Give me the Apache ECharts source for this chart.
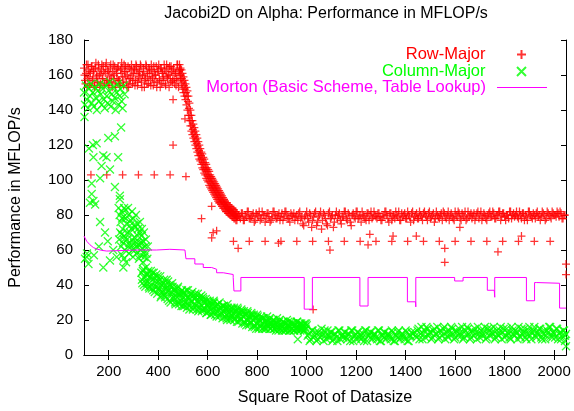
<!DOCTYPE html>
<html>
<head>
<meta charset="utf-8">
<script src="https://cdn.jsdelivr.net/npm/echarts@6/dist/echarts.min.js"></script>
<style>
  html, body { margin: 0; padding: 0; background: #ffffff; }
  #chart { width: 574px; height: 411px; }
</style>
</head>
<body>
<div id="chart"></div>
<script>
// ---- Axis ticks ----
const xTicks = [200, 400, 600, 800, 1000, 1200, 1400, 1600, 1800, 2000];
const yTicks = [0, 20, 40, 60, 80, 100, 120, 140, 160, 180];

// ---- Row-Major (sampled runs: first x, x step, MFLOP/s values) ----
const rowPlateauStart = 100, rowPlateauStep = 4;
const rowPlateauY = [
  164,157,161,153,166,159,162,155,165,158,
  163,154,167,160,156,164,153,161,166,158,
  162,155,165,157,163,154,160,166,156,162,
  158,165,153,161,164,157,155,163,167,159,
  154,162,165,156,160,153,164,158,166,155,
  161,163,157,165,154,159,162,166,156,160,
  164,153,158,165,161,155,163,157,166,159,
  154,162,160,165,156,163,158,153,164,161,
  157,166,155,162,159,164,153,160,165,156,
  163,158,161,154,166,157,162,160
];
const rowPlateau2Start = 102, rowPlateau2Step = 4;
const rowPlateau2Y = [
  160,155,166,158,163,154,161,165,157,162,
  153,164,159,156,166,160,155,163,158,165,
  154,161,167,157,162,156,164,159,153,166,
  160,155,163,158,165,157,154,161,164,156,
  166,159,162,153,165,158,155,163,160,157,
  164,154,166,161,156,163,158,165,153,160,
  162,157,166,155,159,164,161,154,163,158,
  165,156,160,153,162,166,157,164,155,161,
  159,163,154,166,158,160,165,156,162,157,
  164,155,161,158,166,153,163
];
const rowDecayStart = 488, rowDecayStep = 4;
const rowDecayY = [
  163,160,158,156,154,152,150,148,145,141,
  137,134,131,129,127,125,123,121,119,117,
  115,114,112,110,109,107,106,105,103,102,
  101,99,98,97,96,95,94,93,92,91,
  90,89,88,88,87,86,85,85,84,83,
  83,82,82,81,81,80,80,79,79
];
const rowDecayLowStart = 490, rowDecayLowStep = 4;
const rowDecayLowY = [
  158,155,152,150,148,146,143,140,137,134,
  131,128,126,124,122,120,118,116,114,112,
  111,109,107,106,104,103,101,100,99,97,
  96,95,94,93,92,91,90,89,88,87,
  87,86,85,84,84,83,82,82,81,81,
  80,80,79,79,78,78,77,77
];
const rowDecayHighStart = 486, rowDecayHighStep = 4;
const rowDecayHighY = [
  166,164,163,161,159,157,155,153,151,148,
  144,140,137,134,132,130,128,126,124,122,
  120,118,116,115,113,112,110,109,107,106,
  105,103,102,101,100,99,98,97,96,95,
  94,93,92,91,90,89,88,87,87,86,
  85,85,84,84,83,83,82,82,81
];
const rowFlatStart = 724, rowFlatStep = 8;
const rowFlatY = [
  80,78,81,77,79,82,78,80,76,81,
  79,77,82,80,78,81,76,79,82,78,
  80,77,81,79,82,78,76,80,81,79,
  77,82,79,74,80,78,81,73,79,82,
  76,80,72,81,78,74,82,79,73,80,
  78,81,75,79,82,77,80,74,81,78,
  82,79,76,80,78,81,77,82,79,80,
  78,81,77,79,82,80,76,81,79,78,
  80,82,77,79,81,78,80,76,82,79,
  81,78,80,77,82,79,81,78,80,76,
  82,79,80,77,81,78,82,80,79,77,
  80,82,78,81,79,77,82,80,78,81,
  79,82,80,77,81,78,80,82,79,81,
  78,80,82,79,81,77,80,82,78,81,
  80,79,82,78,81,80,77,82,79,81,
  78,82,80,79,81,77,82,80,78,81,
  80,82,79,81,78,80
];
const rowFlat2Start = 728, rowFlat2Step = 8;
const rowFlat2Y = [
  79,81,77,80,82,78,79,81,77,80,
  82,78,80,76,81,79,77,82,80,78,
  81,79,77,82,80,78,81,79,77,80,
  81,78,75,79,82,76,80,77,81,74,
  79,82,77,80,75,81,78,80,76,82,
  80,77,79,82,78,81,76,80,79,82,
  78,80,82,79,77,81,80,78,82,79,
  81,79,77,80,82,78,81,77,80,82,
  79,77,81,80,78,82,79,81,77,80,
  78,82,79,81,80,77,82,79,81,78,
  80,78,81,82,79,80,77,81,78,82,
  79,81,77,80,82,78,79,81,80,77,
  81,78,82,79,80,77,81,79,82,78,
  80,82,77,81,79,80,78,82,80,79,
  82,78,80,81,77,79,82,80,78,80,
  81,79,77,82,80,78,81,79,82,80,
  79,81,82,78,80
];
const rowOutliers = [
  [128,103],[192,103],[256,103],[320,103],[384,103],[448,103],[512,102],
  [460,146],[460,120],[508,135],[575,78],[616,85],[622,70],[636,71],[616,67],
  [704,65],[723,61],[768,65],[832,65],[886,64],[896,65],[960,65],[1024,65],
  [1026,26],[1088,65],[1094,60],[1152,65],[1216,65],[1248,63],[1255,69],
  [1280,65],[1344,65],[1349,68],[1408,65],[1443,68],[1472,65],[1536,65],
  [1558,61],[1558,53],[1600,65],[1619,73],[1664,65],[1728,65],[1773,59],
  [1792,65],[1856,65],[1868,68],[1920,65],[1984,65],[2048,52],[2048,46]
];

// ---- Column-Major ----
const colBandStart = 100, colBandStep = 4;
const colBandY = [
  150,143,154,146,141,152,148,155,144,150,
  142,153,147,140,151,145,155,149,143,152,
  146,141,154,148,144,151,156,142,149,145,
  153,147,140,150,155,143,148,152,145,141,
  154,149
];
const colScatter = [
  [102,136],[151,121],[138,113],[178,114],[198,124],[225,125],[191,113],
  [171,108],[205,106],[238,113],[131,98],[165,101],[225,96],[131,92],
  [245,91],[138,88],[145,86],[124,87],[245,89],[165,76],[185,70],[218,60],
  [252,69],[111,56],[118,52],[178,50],[232,56],[205,54],[259,50],[104,55],
  [112,58],[160,62],[196,65],[140,57],[250,130],[120,118],[136,120]
];
const colCluster = [
  [240,84],[244,80],[248,76],[252,82],[256,72],[260,79],[264,68],[268,83],
  [272,75],[276,70],[280,80],[284,64],[288,77],[292,72],[296,60],[300,78],
  [304,67],[308,73],[312,58],[316,75],[320,63],[324,70],[328,57],[332,68],
  [336,61],[340,65],[344,56],[348,62],[352,58],[356,55],[242,66],[250,62],
  [258,64],[266,60],[274,66],[282,58],[290,62],[298,56],[306,60],[314,64],
  [322,55],[330,60],[338,53],[254,57],[262,55],[270,53],
  [246,70],[254,78],[262,84],[270,78],[278,84],[286,70],[294,82],[302,74],
  [310,80],[318,68],[326,76],[334,72],[342,70],[350,66],[358,62],[262,66],
  [278,62],[294,66],[310,62],[326,64],[342,58],[286,74],[302,64],[318,72],
  [334,64]
];
const colDecayStart = 332, colDecayStep = 4;
const colDecayY = [
  47,41,49,44,39,46,42,48,38,45,40,47,37,
  44,39,46,35,42,38,45,34,41,37,
  43,33,40,36,42,31,39,35,41,32,
  38,30,36,33,39,29,35,31,37,28,
  36,30,34,27,37,32,28,35,31,26,
  34,29,33,26,35,30,27,32,25,33,
  30,26,32,24,29,27,31,23,28,25,
  31,25,28,22,29,26,30,23,27,21,
  28,24,27,21,29,23,26,20,27,22,
  26,20,25,22,27,19,24,21,26,18,
  24,19,23,17,25,20,22,18,24,16,
  22,17,21,15,23,18,20,16,22,15,
  21,16,19,15,22,17,20,15,18,16,
  20,15,18,14,21,16,19,15,17,14,
  19,15,18,14,20,16,17,14,19,15,
  18,14,17,15,19,14,16,18,15,17,
  16,14,18,15,17
];
const colDecay2Start = 334, colDecay2Step = 4;
const colDecay2Y = [
  43,48,40,45,50,41,46,39,44,48,38,43,
  47,36,42,39,45,37,43,33,40,36,
  41,34,38,43,32,37,40,30,36,39,
  33,37,29,35,38,30,34,36,28,33,
  35,28,32,37,29,33,26,34,30,36,
  27,32,35,28,31,25,33,29,34,26,
  32,27,30,24,31,28,25,30,23,29,
  27,30,23,28,25,29,22,27,24,28,
  25,28,22,26,20,27,24,21,26,23,
  24,27,21,25,19,26,22,24,20,25,
  22,25,18,23,20,24,17,22,19,23,
  20,23,16,21,18,22,15,20,17,21,
  18,21,15,20,17,19,16,21,15,18,
  17,20,15,19,16,18,14,20,15,17,
  16,19,14,18,15,17,19,14,16,18,
  15,18,14,17,16,19,15,17,14,18,
  15,17,14,16,18
];
const colFlatAStart = 1004, colFlatAStep = 8;
const colFlatAY = [
  11,8,14,10,13,9,12,15,8,11,
  14,10,13,9,12,8,14,11,10,13,
  9,12,14,8,11,13,10,9,12,14,
  8,11,13,10,12,9,14,8,11,13,
  10,12,9,13,8,11,14,10,12,9,
  13,8,11,12
];
const colFlatA2Start = 1008, colFlatA2Step = 8;
const colFlatA2Y = [
  12,9,14,11,8,13,10,12,14,9,
  11,13,8,12,10,14,9,11,13,10,
  12,8,14,11,9,13,12,10,8,14,
  11,13,9,12,10,14,8,11,13,9,
  12,10,14,8,11,13,9,12,10,14,
  8,11,13
];
const colFlatBStart = 1436, colFlatBStep = 8;
const colFlatBY = [
  13,10,15,12,9,14,16,11,13,10,
  15,12,9,14,11,16,13,10,12,15,
  9,14,11,13,16,10,12,15,9,14,
  11,13,16,10,12,14,9,15,11,13,
  16,10,12,14,9,15,11,13,10,16,
  12,14,9,11,15,13,10,12,16,9,
  14,11,13,15,10,12,9,14,16,11,
  13,10,15,12,9,14,11
];
const colFlatB2Start = 1440, colFlatB2Step = 8;
const colFlatB2Y = [
  11,14,9,16,12,10,15,13,9,14,
  12,16,10,13,15,9,11,14,16,12,
  10,13,15,11,9,14,16,12,10,13,
  15,9,12,14,11,16,10,13,15,12,
  9,14,11,16,13,10,15,12,9,14,
  11,13,16,10,12,15,9,14,11,13,
  16,10,12,15,9,14,11,13,16,10,
  12,15,9,13,11,14
];
const colOutliers = [[964,9],[2048,5],[2044,8],[2048,12]];

// ---- Morton (Basic Scheme, Table Lookup): stepped profile ----
const mortonPts = [
  [100,68],[111,65],[124,63],[138,61.4],[151,60.6],[171,59.8],[192,59.4],
  [272,59.8],[326,60],[393,60],[447,60.4],[508,60],[512,60],[512,55],
  [548,55],[548,52],[582,52],[582,50],[616,50],[616,49],[636,49],[636,47],
  [663,47],[663,46],[703,46],[703,44.3],[706,44.3],[706,36.6],[734,36.6],
  [734,44.3],[990,44.3],[990,26.2],[1023,26.2],[1023,44.3],[1215,44.3],
  [1215,28],[1248,28],[1248,44.3],[1407,44.3],[1407,30.4],[1440,30.4],
  [1441,27.5],[1441,44.3],[1598,44.3],[1598,42.3],[1632,42.3],[1632,44.3],
  [1730,44.3],[1730,37],[1758,37],[1760,33],[1760,44.3],[1888,44.3],
  [1888,31],[1921,31],[1921,41.4],[1930,41.4],[1930,41],[2022,41],
  [2022,26.8],[2048,26.8]
];

// Pair each sampled value with its x position.
function run(x0, step, ys) {
  return ys.map(function (y, i) { return [x0 + i * step, y]; });
}

const rowData = [].concat(
  run(rowPlateauStart, rowPlateauStep, rowPlateauY),
  run(rowPlateau2Start, rowPlateau2Step, rowPlateau2Y),
  run(rowDecayStart, rowDecayStep, rowDecayY),
  run(rowDecayLowStart, rowDecayLowStep, rowDecayLowY),
  run(rowDecayHighStart, rowDecayHighStep, rowDecayHighY),
  run(rowFlatStart, rowFlatStep, rowFlatY),
  run(rowFlat2Start, rowFlat2Step, rowFlat2Y),
  rowOutliers
);
const colData = [].concat(
  run(colBandStart, colBandStep, colBandY),
  colScatter,
  colCluster,
  run(colDecayStart, colDecayStep, colDecayY),
  run(colDecay2Start, colDecay2Step, colDecay2Y),
  run(colFlatAStart, colFlatAStep, colFlatAY),
  run(colFlatA2Start, colFlatA2Step, colFlatA2Y),
  run(colFlatBStart, colFlatBStep, colFlatBY),
  run(colFlatB2Start, colFlatB2Step, colFlatB2Y),
  colOutliers
);

const FONT = "'Liberation Sans', Arial, Helvetica, sans-serif";
const PLUS = 'path://M0,5L10,5M5,0L5,10';
const CROSS = 'path://M0,0L10,10M10,0L0,10';
const DASH = 'path://M0,0H50V1H0Z';
const RED = '#ff0000', GREEN = '#00ff00', MAGENTA = '#ff00ff';

function legendFor(item, color, top, right) {
  return {
    data: [item], right: right, top: top, orient: 'horizontal', align: 'right',
    itemWidth: 50, itemHeight: 9, padding: 0, selectedMode: false,
    textStyle: { color: color, fontSize: 16.5, fontFamily: FONT, padding: [0, 6, 0, 0] }
  };
}

const chart = echarts.init(document.getElementById('chart'), null, { renderer: 'canvas' });
chart.setOption({
  animation: false,
  backgroundColor: '#ffffff',
  title: {
    text: 'Jacobi2D on Alpha: Performance in MFLOP/s',
    left: 321, top: 1, textAlign: 'center',
    textStyle: { fontSize: 16, fontWeight: 'normal', color: '#000', fontFamily: FONT }
  },
  legend: [
    legendFor('Row-Major', RED, 46, 47),
    legendFor('Column-Major', GREEN, 63, 47),
    legendFor({ name: 'Morton (Basic Scheme, Table Lookup)', icon: DASH }, MAGENTA, 79, 27)
  ],
  grid: { left: 84, right: 8, top: 40, bottom: 55, containLabel: false },
  xAxis: [
    {
      type: 'value', min: 100, max: 2048, position: 'bottom',
      name: 'Square Root of Datasize', nameLocation: 'middle', nameGap: 35,
      nameTextStyle: { fontSize: 16, color: '#000', fontFamily: FONT },
      axisLine: { lineStyle: { color: '#000', width: 1 } },
      axisTick: { inside: true, length: 5, customValues: xTicks, lineStyle: { color: '#000' } },
      axisLabel: {
        customValues: xTicks, fontSize: 15, color: '#000', fontFamily: FONT, margin: 9,
        formatter: function (v) { return String(v); }
      },
      splitLine: { show: false }
    },
    {
      type: 'value', min: 100, max: 2048, position: 'top',
      axisLine: { lineStyle: { color: '#000', width: 1 } },
      axisTick: { inside: true, length: 5, customValues: xTicks, lineStyle: { color: '#000' } },
      axisLabel: { show: false },
      splitLine: { show: false }
    }
  ],
  yAxis: [
    {
      type: 'value', min: yTicks[0], max: yTicks[yTicks.length - 1], interval: 20, position: 'left',
      name: 'Performance in MFLOP/s', nameLocation: 'middle', nameGap: 60,
      nameTextStyle: { fontSize: 16, color: '#000', fontFamily: FONT },
      axisLine: { show: true, lineStyle: { color: '#000', width: 1 } },
      axisTick: { show: true, inside: true, length: 5, lineStyle: { color: '#000' } },
      axisLabel: { fontSize: 15, color: '#000', fontFamily: FONT, margin: 11 },
      splitLine: { show: false }
    },
    {
      type: 'value', min: yTicks[0], max: yTicks[yTicks.length - 1], interval: 20, position: 'right',
      axisLine: { show: true, lineStyle: { color: '#000', width: 1 } },
      axisTick: { show: true, inside: true, length: 5, lineStyle: { color: '#000' } },
      axisLabel: { show: false },
      splitLine: { show: false }
    }
  ],
  series: [
    {
      name: 'Row-Major', type: 'scatter', symbol: PLUS, symbolSize: 8, clip: false, z: 2,
      itemStyle: { color: RED, borderColor: RED, borderWidth: 1.25 },
      emphasis: { disabled: true },
      data: rowData
    },
    {
      name: 'Column-Major', type: 'scatter', symbol: CROSS, symbolSize: 8, clip: false, z: 3,
      itemStyle: { color: GREEN, borderColor: GREEN, borderWidth: 1.25 },
      emphasis: { disabled: true },
      data: colData
    },
    {
      name: 'Morton (Basic Scheme, Table Lookup)', type: 'line', symbol: 'none', z: 4,
      lineStyle: { color: MAGENTA, width: 1 },
      itemStyle: { color: MAGENTA },
      emphasis: { disabled: true },
      data: mortonPts
    }
  ]
});
</script>
</body>
</html>
